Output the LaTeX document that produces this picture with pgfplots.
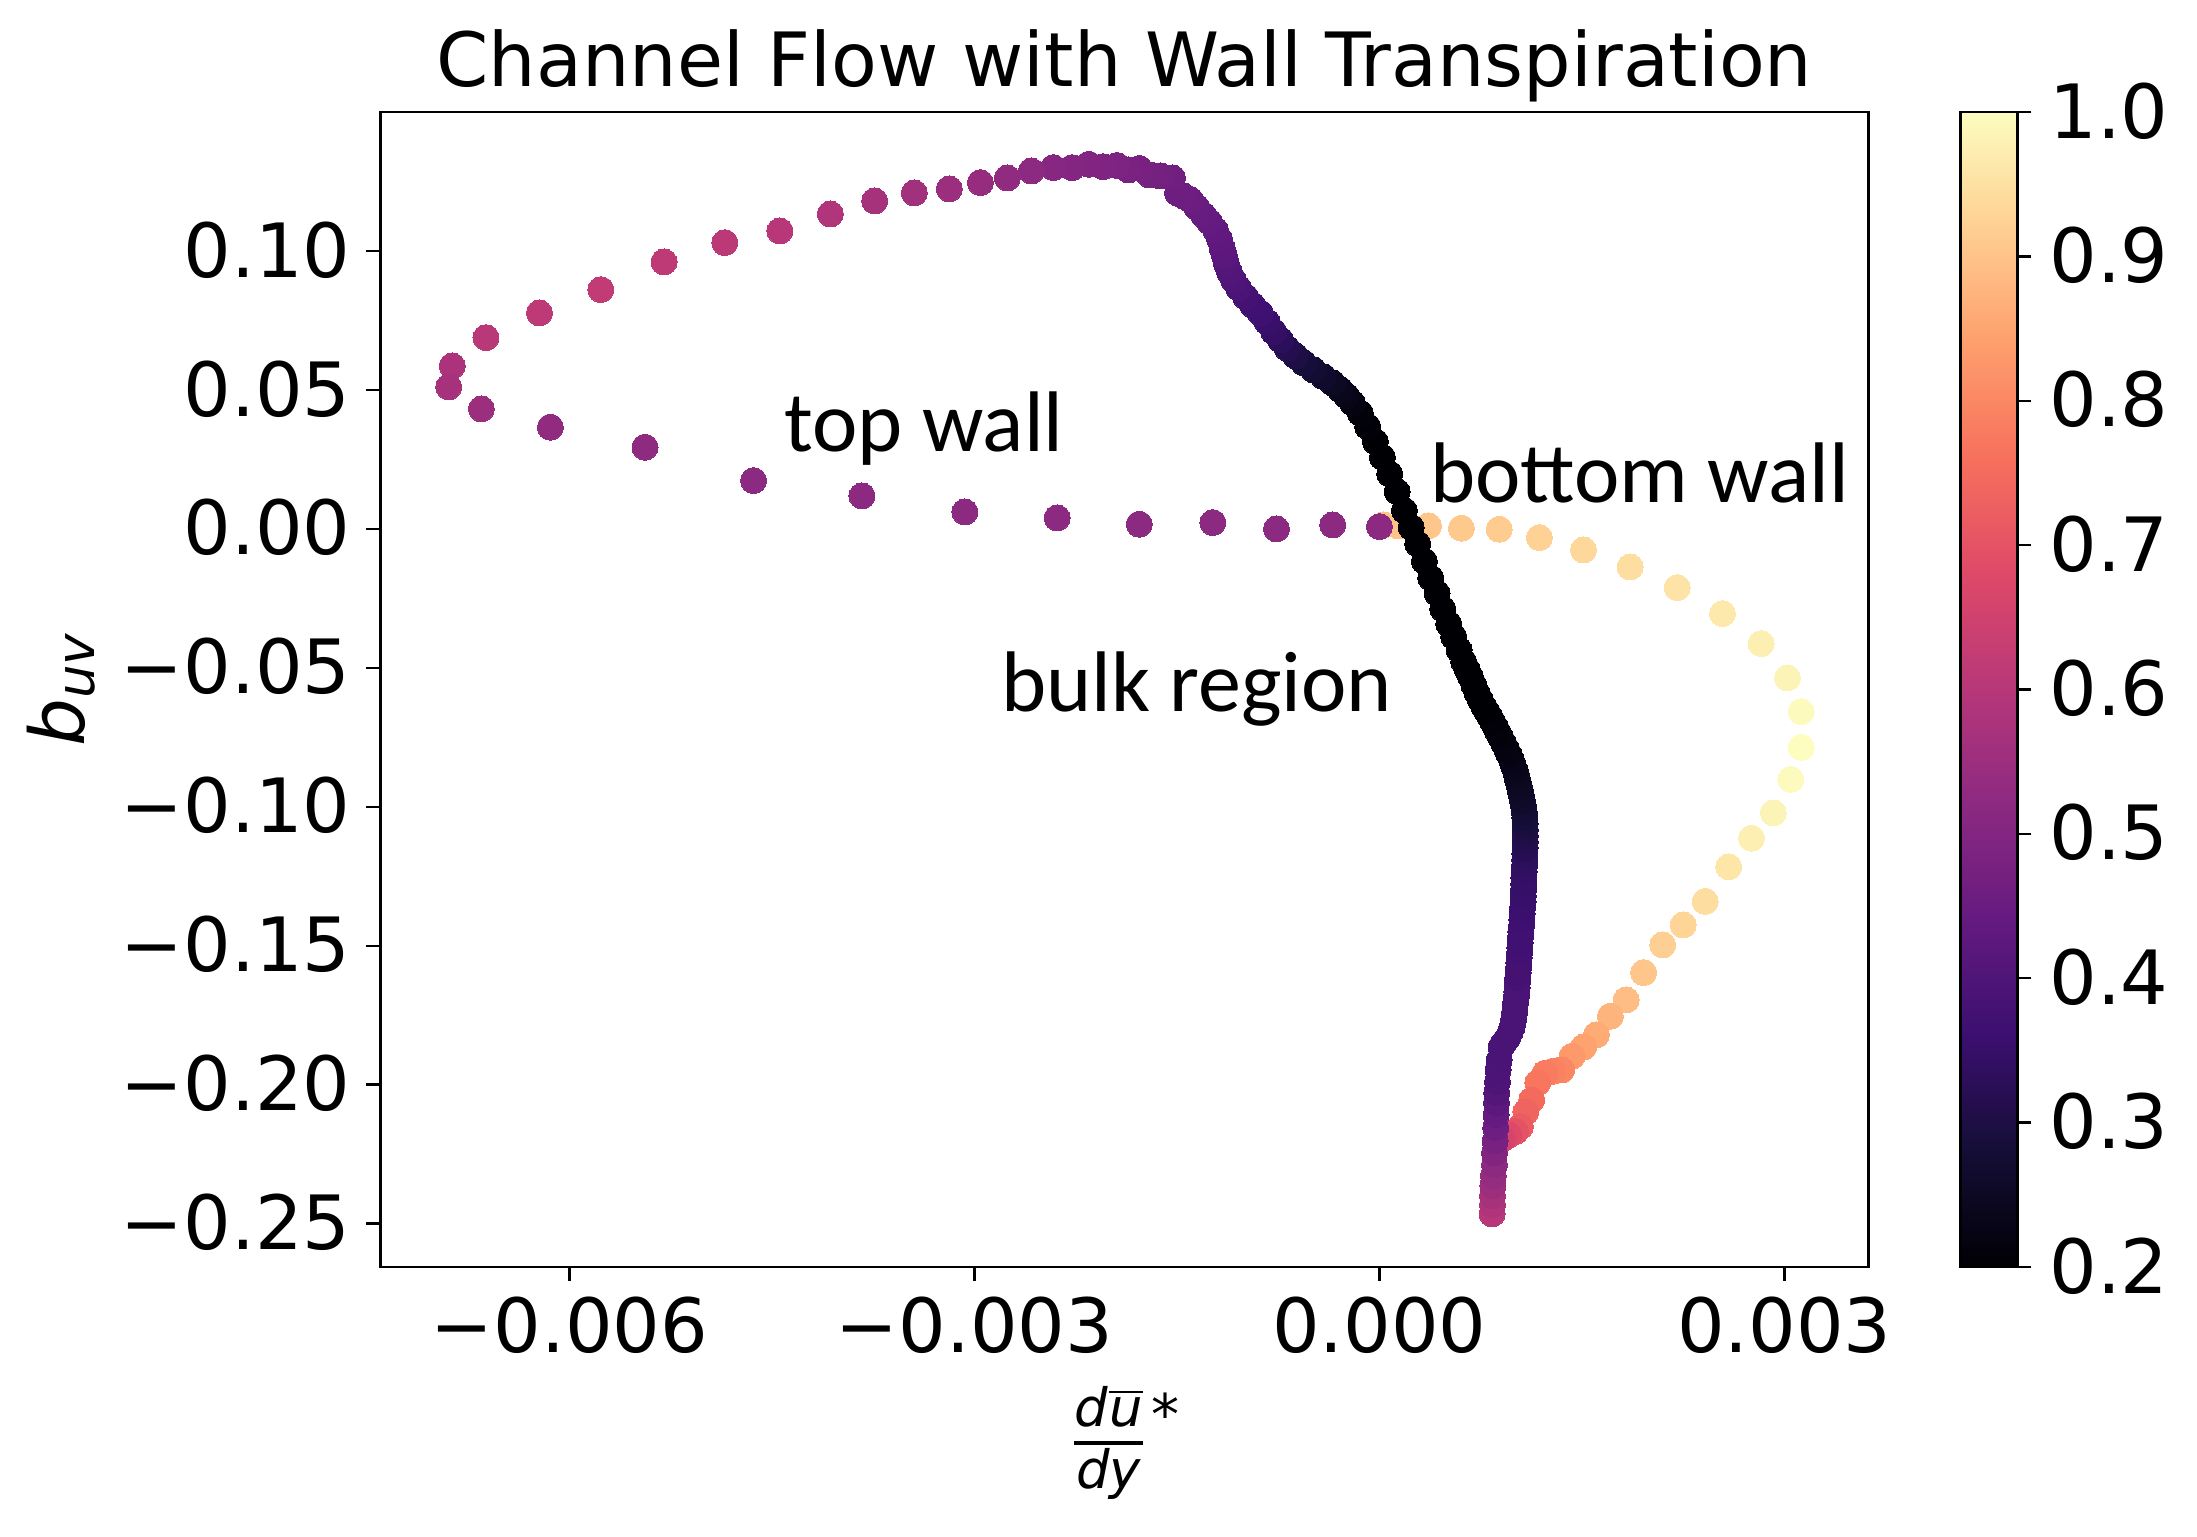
\documentclass[border=0pt]{standalone}
\usepackage{fontspec}
\usepackage{pgfplots}
\pgfplotsset{compat=1.18}
\setmainfont{DejaVu Sans}
\newfontfamily\calibri{Carlito}
\newcommand{\tickfont}{\fontsize{18.72}{22}\selectfont}
\newcommand{\fracfont}{\fontsize{13.2}{15}\selectfont}

\pgfplotsset{
  colormap={magma}{
    rgb255=(0,0,4) rgb255=(20,14,54) rgb255=(59,15,112) rgb255=(100,26,128)
    rgb255=(140,41,129) rgb255=(183,55,121) rgb255=(222,73,104) rgb255=(247,112,92)
    rgb255=(254,159,109) rgb255=(254,207,146) rgb255=(252,253,191)
  },
}

\begin{document}
\begin{tikzpicture}[x=1pt,y=1pt]
\useasboundingbox (0,0) rectangle (549.25,384.25);
\begin{axis}[
    at={(95.1pt,67.5pt)},
    anchor=south west,
    scale only axis,
    width=372pt,
    height=288.75pt,
    xmin=-0.0074, xmax=0.003622,
    ymin=-0.2656, ymax=0.15005,
    xtick={-0.006,-0.003,0,0.003},
    xticklabels={−0.006,−0.003,0.000,0.003},
    ytick={-0.25,-0.2,-0.15,-0.1,-0.05,0,0.05,0.1},
    yticklabels={−0.25,−0.20,−0.15,−0.10,−0.05,0.00,0.05,0.10},
    scaled ticks=false,
    xtick pos=bottom,
    ytick pos=left,
    tick align=outside,
    major tick length=3.5pt,
    tick style={black,line width=0.6pt},
    axis line style={line width=0.7pt},
    tick label style={font=\tickfont,inner sep=0pt,outer sep=0pt},
    xticklabel style={yshift=-3.95pt},
    yticklabel style={xshift=-4.0pt,yshift=0.3pt},
    title={Channel Flow with Wall Transpiration},
    title style={font=\tickfont,inner sep=0pt,anchor=base,at={(0.5,1)},yshift=0.45pt},
    xlabel={$\textstyle{\hbox{\fracfont\itshape d\kern0.4pt$\overline{\hbox{\itshape u}}$\rule[-2.8pt]{0pt}{1pt}} \above 0.9pt \hbox{\fracfont\itshape dy}}$\kern1pt\raisebox{4.7pt}{\fontsize{14}{15}\selectfont *}},
    xlabel style={at={(0.5,0)},anchor=north,inner sep=0pt,yshift=-29.7pt},
    ylabel={{\fontsize{18.9}{22}\selectfont\itshape b\textsubscript{uv}}},
    ylabel style={at={(0,0.5)},rotate=0,anchor=south,inner sep=0pt,yshift=71pt},
    point meta min=0.2,
    point meta max=1,
    colormap name=magma,
    colorbar,
    colorbar shift/.style={xshift=17.2pt},
    colorbar style={
      width=14.25pt,
      ytick={0.2,0.3,0.4,0.5,0.6,0.7,0.8,0.9,1.0},
      yticklabels={0.2,0.3,0.4,0.5,0.6,0.7,0.8,0.9,1.0},
      ytick pos=right,
      yticklabel pos=right,
      tick align=outside,
      major tick length=3.5pt,
      tick style={black,line width=0.6pt},
      axis line style={line width=0.7pt},
      yticklabel style={font=\tickfont,inner sep=0pt,xshift=4.5pt,yshift=0.3pt},
    },
    clip=false,
  ]
  % light branch, bottom wall to the tip, then the red part down to the column
  \addplot[scatter,only marks,mark=*,mark size=3.25pt,
    scatter src=explicit,
    scatter/use mapped color={draw=mapped color,fill=mapped color},
    mark options={line width=0pt}]
    table[x=x,y=y,meta=m] {
    x y m
    0.000030 0.00144 0.90
    0.000141 0.00108 0.90
    0.000363 0.00108 0.905
    0.000607 0.00025 0.91
    0.000887 -0.00011 0.915
    0.001185 -0.00313 0.925
    0.001511 -0.00756 0.935
    0.001857 -0.01367 0.945
    0.002206 -0.02112 0.955
    0.002541 -0.03048 0.965
    0.002827 -0.04127 0.975
    0.003022 -0.05362 0.985
    0.003124 -0.06574 0.995
    0.003124 -0.07862 1.0
    0.003047 -0.09014 0.995
    0.002918 -0.10219 0.985
    0.002756 -0.11130 0.975
    0.002587 -0.12159 0.96
    0.002413 -0.13404 0.945
    0.002250 -0.14250 0.93
    0.002098 -0.14969 0.92
    0.001957 -0.15966 0.905
    0.001827 -0.16949 0.89
    0.001711 -0.17535 0.875
    0.001607 -0.18208 0.86
    0.001513 -0.18640 0.845
    0.001427 -0.18975 0.83
    0.001350 -0.19467 0.80
    0.001287 -0.19514 0.79
    0.001227 -0.19586 0.78
    0.001173 -0.19925 0.77
    0.001128 -0.20547 0.75
    0.001084 -0.20979 0.735
    0.001044 -0.21507 0.72
    0.001007 -0.21688 0.70
    0.000958 -0.21806 0.68
    0.000911 -0.21950 0.66
    0.000835 -0.24649 0.60
    0.000837 -0.24325 0.585
    0.000837 -0.24001 0.57
    0.000841 -0.23642 0.55
    0.000844 -0.23282 0.535
    0.000852 -0.22886 0.52
    0.000852 -0.22454 0.50
    0.000857 -0.22022 0.48
    0.000861 -0.21554 0.46
    0.000864 -0.21087 0.44
    0.000867 -0.20655 0.425
    0.000869 -0.20295 0.41
    0.000874 -0.19899 0.40
    0.000879 -0.19467 0.395
    0.000887 -0.19108 0.39
    0.000901 -0.18640 0.39
    0.000926 -0.18460 0.39
    0.000950 -0.18316 0.39
    0.000970 -0.18100 0.39
    0.000983 -0.17920 0.39
    0.000993 -0.17668 0.39
    0.001002 -0.17380 0.39
    0.001007 -0.17092 0.39
    0.001015 -0.16805 0.39
    0.0010175 -0.16661 0.39
    0.001020 -0.16517 0.39
    0.001022 -0.16337 0.39
    0.001024 -0.16157 0.385
    0.001027 -0.15977 0.38
    0.001030 -0.15797 0.38
    0.0010325 -0.15617 0.38
    0.001035 -0.15437 0.38
    0.001038 -0.15257 0.375
    0.001041 -0.15077 0.375
    0.0010425 -0.14897 0.37
    0.001044 -0.14717 0.37
    0.001048 -0.14501 0.37
    0.001052 -0.14286 0.37
    0.0010545 -0.14070 0.365
    0.001057 -0.13854 0.365
    0.0010605 -0.13638 0.36
    0.001064 -0.13422 0.36
    0.0010655 -0.13206 0.355
    0.001067 -0.12990 0.355
    0.0010685 -0.12774 0.35
    0.001070 -0.12558 0.35
    0.001072 -0.12342 0.345
    0.001074 -0.12127 0.34
    0.001076 -0.11911 0.335
    0.001078 -0.11695 0.33
    0.0010795 -0.11479 0.32
    0.001081 -0.11263 0.315
    0.001081 -0.11047 0.31
    0.001081 -0.10831 0.30
    0.0010795 -0.10615 0.29
    0.001078 -0.10399 0.285
    0.0010725 -0.10183 0.28
    0.001067 -0.09968 0.27
    0.0010585 -0.09770 0.265
    0.001050 -0.09572 0.26
    0.001040 -0.09356 0.255
    0.001030 -0.09140 0.25
    0.0010185 -0.08924 0.245
    0.001007 -0.08708 0.24
    0.0009925 -0.08510 0.235
    0.000978 -0.08312 0.23
    0.000960 -0.08114 0.225
    0.000941 -0.07916 0.22
    0.0009185 -0.07700 0.217
    0.000896 -0.07485 0.215
    0.0008775 -0.07305 0.212
    0.000859 -0.07125 0.21
    0.000837 -0.06927 0.207
    0.000815 -0.06729 0.205
    0.0007925 -0.06549 0.202
    0.000770 -0.06369 0.20
    0.000747 -0.06140 0.20
    0.000724 -0.05912 0.20
    0.000699 -0.05613 0.20
    0.000674 -0.05315 0.20
    0.000649 -0.05045 0.20
    0.000624 -0.04775 0.20
    0.000590 -0.04354 0.20
    0.000550 -0.03875 0.20
    0.000513 -0.03418 0.20
    0.000469 -0.02879 0.20
    0.000427 -0.02314 0.20
    0.000380 -0.01763 0.20
    0.000333 -0.01162 0.20
    0.000284 -0.00540 0.20
    0.000235 0.00061 0.20
    0.000185 0.00659 0.20
    0.000131 0.01342 0.20
    0.000076 0.01979 0.20
    0.000022 0.02580 0.20
    -0.000030 0.03141 0.20
    -0.000087 0.03681 0.205
    -0.000141 0.04163 0.21
    -0.000200 0.04534 0.22
    -0.000244 0.04786 0.23
    -0.000289 0.05002 0.24
    -0.000348 0.05254 0.25
    -0.000415 0.05480 0.265
    -0.000489 0.05722 0.275
    -0.000561 0.05973 0.285
    -0.000622 0.06225 0.30
    -0.000684 0.06502 0.315
    -0.000733 0.06801 0.33
    -0.000783 0.07100 0.345
    -0.000832 0.07449 0.355
    -0.000881 0.07762 0.365
    -0.000941 0.08060 0.37
    -0.000993 0.08359 0.38
    -0.001044 0.08672 0.39
    -0.001081 0.08960 0.40
    -0.001111 0.09248 0.405
    -0.001133 0.09536 0.41
    -0.001148 0.09824 0.42
    -0.001165 0.10112 0.425
    -0.001185 0.10435 0.43
    -0.001215 0.10759 0.435
    -0.001259 0.11047 0.44
    -0.001304 0.11299 0.445
    -0.001356 0.11587 0.45
    -0.001400 0.11839 0.455
    -0.001452 0.11983 0.46
    -0.001496 0.12091 0.46
    -0.001533 0.12630 0.465
    -0.001622 0.12703 0.47
    -0.001704 0.12738 0.475
    -0.001778 0.12972 0.48
    -0.001859 0.12918 0.485
    -0.001944 0.13080 0.49
    -0.002047 0.13037 0.495
    -0.002153 0.13123 0.50
    -0.002276 0.13001 0.505
    -0.002416 0.13001 0.51
    -0.002578 0.12882 0.52
    -0.002756 0.12630 0.53
    -0.002956 0.12461 0.54
    -0.003186 0.12235 0.55
    -0.003445 0.12091 0.56
    -0.003739 0.11803 0.57
    -0.004067 0.11335 0.59
    -0.004441 0.10723 0.60
    -0.004849 0.10302 0.61
    -0.005299 0.09608 0.615
    -0.005767 0.08611 0.62
    -0.006222 0.07773 0.615
    -0.006618 0.06884 0.605
    -0.006868 0.05865 0.58
    -0.006894 0.05110 0.57
    -0.006652 0.04318 0.55
    -0.006141 0.03660 0.53
    -0.005440 0.02940 0.525
    -0.004636 0.01738 0.52
    -0.003833 0.01187 0.52
    -0.003071 0.00612 0.52
    -0.002387 0.00396 0.52
    -0.001779 0.00169 0.52
    -0.001234 0.00227 0.52
    -0.000763 0.00000 0.52
    -0.000346 0.00144 0.52
    0.000000 0.00083 0.52
  };
  \node[anchor=base west,inner sep=0pt,font=\calibri\fontsize{21.5}{24}\selectfont] at (axis cs:-0.004414,0.0277) {top wall};
  \node[anchor=base west,inner sep=0pt,font=\calibri\fontsize{21.5}{24}\selectfont] at (axis cs:0.00037,0.00946) {bottom wall};
  \node[anchor=base west,inner sep=0pt,font=\calibri\fontsize{21.5}{24}\selectfont] at (axis cs:-0.002808,-0.06574) {bulk region};
\end{axis}
\end{tikzpicture}
\end{document}
